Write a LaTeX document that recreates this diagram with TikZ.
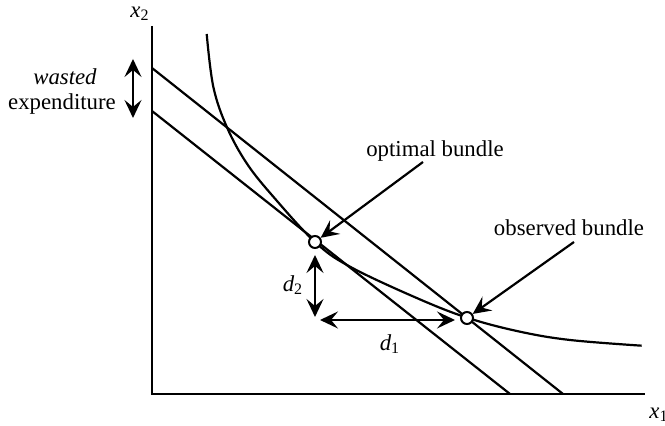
\documentclass[tikz,border=0pt]{standalone}
\usepackage{amsmath}
\usepackage{fontspec}
\setmainfont{Liberation Serif}
\usetikzlibrary{arrows.meta,positioning}

\begin{document}
\begin{tikzpicture}[x=0.5pt,y=0.5pt,>={Stealth[length=9pt,width=8.5pt,inset=3.5pt]},
  font=\fontsize{11.4}{13}\selectfont,
  line/.style={line width=1.1pt},
  axis/.style={line width=1.3pt},
  bundle/.style={draw,circle,line width=1pt,fill=white,inner sep=0pt,minimum size=6pt},
  txt/.style={inner sep=1pt}]
\useasboundingbox (0,0) rectangle (665,426);
% axes
\coordinate (orig) at (152,32);
\coordinate (ytop) at (152,400);
\coordinate (xend) at (645,32);
\draw[axis] (ytop) -- (orig) -- (xend);
\node[txt] (xtwo) at (140,412) {\textit{x}$_{\text{2}}$};
\node[txt,anchor=west] (xone) at (647,11) {\textit{x}$_{\text{1}}$};
% budget lines
\coordinate (hiA) at (152,358);
\coordinate (hiB) at (563,32);
\coordinate (loA) at (152,315);
\coordinate (loB) at (510,32);
\draw[line] (hiA) -- (hiB);
\draw[line] (loA) -- (loB);
% indifference curve
\draw[line] plot[smooth,tension=0.6] coordinates {(206.7,392) (213.3,339.3) (226.7,299.3)
  (246.7,262.7) (273.3,229.3) (315,184) (350,159.3) (416.7,128) (468,108)
  (520,94.3) (570,86) (641.7,80.3)};
% bundles
\node[bundle] (opt) at (315,184) {};
\node[bundle] (obs) at (467,108) {};
\node[txt] (optlab) at (435,275) {optimal bundle};
\node[txt] (obslab) at (569,198) {observed bundle};
\coordinate (optfrom) at (423,264);
\coordinate (obsfrom) at (574,184);
\draw[line,->] (optfrom) -- (opt);
\draw[line,->] (obsfrom) -- (obs);
% wasted expenditure
\node[txt] (wasted) at (65,349) {\textit{wasted}};
\node[txt] (expend) at (62,322) {expenditure};
\coordinate (wtop) at (133,367);
\coordinate (wbot) at (133,308);
\draw[line,<->] (wtop) -- (wbot);
% distances
\coordinate (dtwoA) at (315,171);
\coordinate (dtwoB) at (315,109);
\coordinate (doneA) at (320,106);
\coordinate (doneB) at (455,106);
\draw[line,<->] (dtwoA) -- (dtwoB);
\draw[line,<->] (doneA) -- (doneB);
\node[txt] (dtwo) at (293,141) {\textit{d}$_{\text{2}}$};
\node[txt] (done) at (390,82) {\textit{d}$_{\text{1}}$};
\end{tikzpicture}
\end{document}
